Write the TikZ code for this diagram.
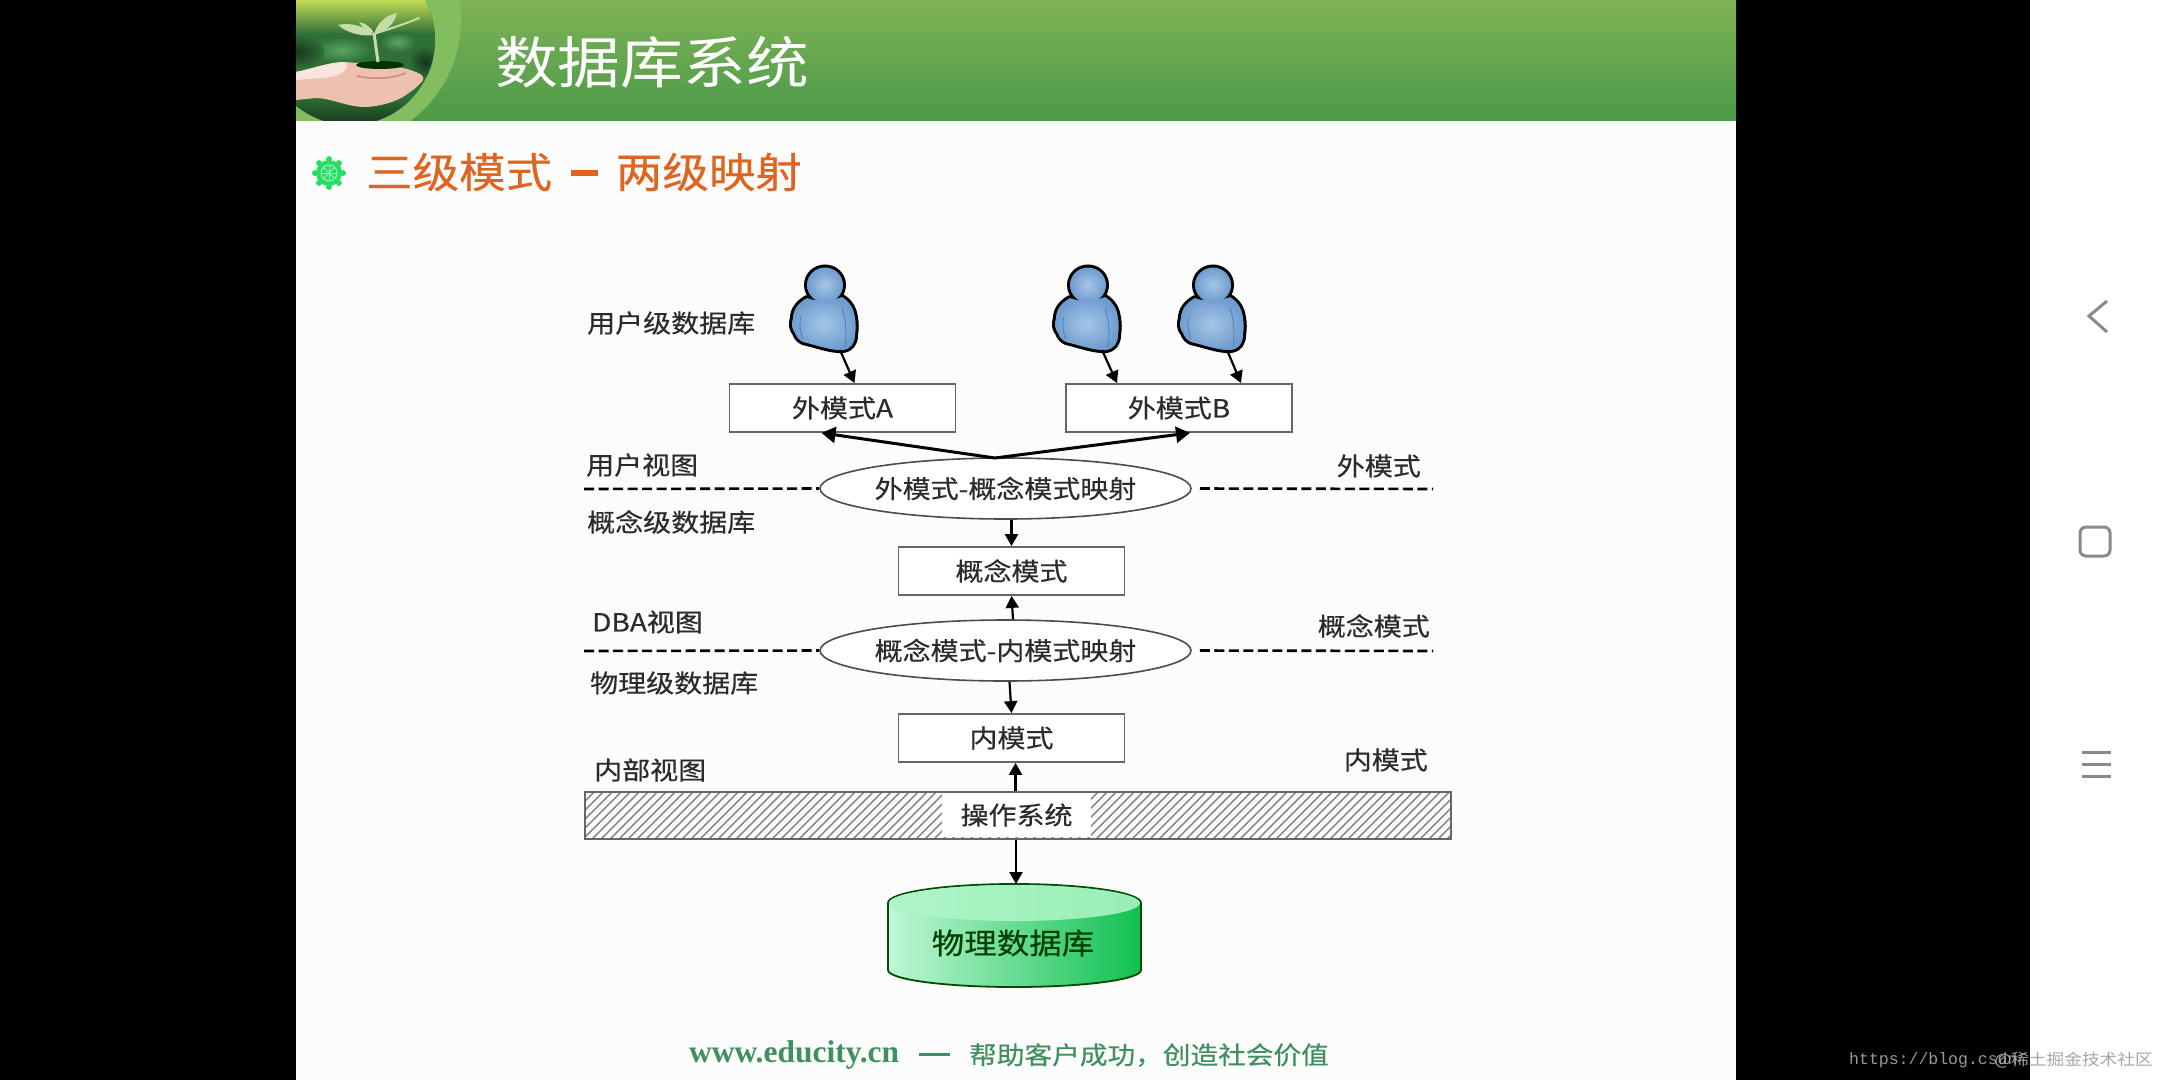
\documentclass[tikz,border=0pt]{standalone}
\usepackage{fontspec}
\setmainfont[FakeStretch=1.12, FakeBold=0.4]{Noto Sans CJK SC}
\newfontfamily\thincjk[FakeStretch=1.12]{Noto Sans CJK SC}
\newfontfamily\footserif{Liberation Serif}
\newfontfamily\urlfont{Liberation Mono}
\usetikzlibrary{positioning, calc, arrows.meta, shapes}
\tikzset{>={Triangle[length=12pt,width=13pt]}}
\definecolor{headtop}{HTML}{7FB257}
\definecolor{headbot}{HTML}{4C9A48}
\definecolor{haloring}{HTML}{82BE60}
\definecolor{orangetxt}{HTML}{DF6420}
\definecolor{wheelgreen}{HTML}{26DE62}
\definecolor{wheelring}{HTML}{A0F2BC}
\definecolor{foottxt}{HTML}{3F8F60}
\definecolor{navgray}{HTML}{8A8A8A}
\definecolor{inktxt}{HTML}{2B2B2B}
\definecolor{userlight}{HTML}{A6C6E6}
\definecolor{userdark}{HTML}{6F9CCF}
\definecolor{userfold}{HTML}{4F7FB4}
\definecolor{logotop}{HTML}{C2DB55}
\definecolor{logomid}{HTML}{2F7038}
\definecolor{logopale}{HTML}{5BA562}
\definecolor{logodark}{HTML}{17351E}
\definecolor{handskin}{HTML}{EDC0B0}
\definecolor{handpale}{HTML}{F8E6DE}
\definecolor{handfold}{HTML}{C98A7A}
\definecolor{sprout}{HTML}{C6DCA6}
\definecolor{dbleft}{HTML}{C0F7D5}
\definecolor{dbright}{HTML}{10C050}
\definecolor{dbtopleft}{HTML}{B0F4C8}
\definecolor{dbtopright}{HTML}{98EFB6}
\tikzset{
  userbody/.style={insert path={
    (-17,33) .. controls (-26,38) and (-31,45) .. (-31,53)
    .. controls (-33,60) and (-32,64) .. (-29,68) .. controls (-27,73) and (-25,75) .. (-21,77)
    .. controls (-8,80) and (8,86) .. (19,85) .. controls (27,84) and (31,78) .. (31,70)
    .. controls (32,64) and (32,58) .. (31,53) .. controls (30,44) and (26,37) .. (18,32)
    .. controls (8,36) and (-8,37) .. (-17,33) -- cycle}},
  userhead/.style={insert path={(1,20) ellipse [x radius=18, y radius=17.5]}},
  user/.pic={
    \path[draw, line width=6pt, line join=round, userbody];
    \path[draw, line width=6pt, userhead];
    \path[inner color=userlight, outer color=userdark, userbody];
    \path[inner color=userlight, outer color=userdark, userhead];
    \draw[userfold, line width=.8pt] (-23,52) .. controls (-25,60) and (-24,68) .. (-21,74);
    \draw[userfold, line width=.8pt] (18,42) .. controls (22,55) and (23,70) .. (21,82);
  }
}
\begin{document}
\begin{tikzpicture}
    [x=1pt, y=-1pt,
     box/.style={draw=black!60, line width=1.8pt, fill=white, minimum width=226pt, minimum height=48pt, inner sep=0pt, text=inktxt, font=\fontsize{25}{25}\selectfont},
     mapping/.style={ellipse, draw=black!70, line width=1.6pt, fill=white, minimum width=371pt, minimum height=61pt, inner sep=0pt, text=inktxt, font=\fontsize{25}{25}\selectfont},
     lab/.style={inner sep=0pt, text=inktxt, font=\fontsize{25}{25}\selectfont},
     sep/.style={line width=2.6pt, dash pattern=on 10pt off 4.5pt},
     flow/.style={->, line width=2.2pt},
     fan/.style={-{Triangle[length=14pt,width=16pt]}, line width=3pt},
     blotch/.style={inner color=#1, outer color=logomid},
     nav/.style={draw=navgray, line width=3pt}]

    \useasboundingbox (0,0) rectangle (2160,1080);
    \fill[black] (0,0) rectangle (2160,1080);
    \fill[white] (2030,0) rectangle (2160,1080);
    \fill[white!99!black] (296,0) rectangle (1736,1080);
    \path[top color=headtop, bottom color=headbot] (296,0) rectangle (1736,120);

    % logo
    \begin{scope}
      \clip (296,0) rectangle (470,120);
      \fill[haloring] (335,20) circle (126);
      \clip (350,40) circle (85);
      \fill[logomid] (250,-50) rectangle (450,130);
      \path[top color=logotop, bottom color=logomid] (250,0) rectangle (450,34);
      \path[blotch=logopale] (342,50) ellipse [x radius=30, y radius=13];
      \path[blotch=logopale] (398,42) ellipse [x radius=18, y radius=10];
      \path[blotch=logodark] (298,52) ellipse [x radius=26, y radius=17];
      \path[blotch=logodark] (425,62) ellipse [x radius=17, y radius=17];
      \path[top color=logomid, bottom color=logodark] (296,96) rectangle (410,125);
      \fill[handskin] (296,72) .. controls (315,68) and (330,62) .. (345,62) .. controls (370,64) and (400,66) .. (410,70)
        .. controls (420,73) and (425,76) .. (423,80) .. controls (417,88) and (410,92) .. (403,97) .. controls (390,104) and (375,107) .. (363,107)
        .. controls (345,106) and (330,98) .. (316,98) -- (296,100) -- cycle;
      \fill[handpale] (296,72) .. controls (315,68) and (330,62) .. (345,62) .. controls (352,68) and (340,78) .. (320,78) -- (296,80) -- cycle;
      \draw[handfold, line width=1.5pt] (357,76) .. controls (375,80) and (395,78) .. (406,73);
      \fill[black!80!green] (380,65) ellipse [x radius=24, y radius=4];
      \draw[sprout, line width=3pt] (378,62) -- (374,33);
      \fill[sprout] (374,35) .. controls (360,37) and (346,32) .. (338,25) .. controls (350,22) and (366,26) .. (374,35) -- cycle;
      \fill[sprout] (374,33) .. controls (368,32) and (362,28) .. (359,22) .. controls (365,23) and (371,27) .. (374,33) -- cycle;
      \fill[sprout] (374,35) .. controls (376,24) and (386,15) .. (397,13) .. controls (395,23) and (386,32) .. (374,35) -- cycle;
      \draw[sprout, line width=2pt, line cap=round] (380,32) .. controls (392,28) and (405,24) .. (419,18);
    \end{scope}

    \node[white, inner sep=0pt, font=\thincjk\fontsize{56}{56}\selectfont] (title) at (652,62) {数据库系统};

    % bullet
    \fill[wheelgreen] (329,173) circle (13);
    \draw[wheelring, line width=1pt] (329,173) circle (8);
    \foreach \a in {0,45,...,315} {
      \fill[wheelgreen] (329,173) ++(\a:14) circle (3);
      \draw[wheelring, line width=.8pt] (329,173) -- ++(\a:8);
    }
    \node[text=orangetxt, anchor=west, inner sep=0pt, font=\fontsize{41.5}{42}\selectfont] (sub) at (366,172) {三级模式};
    \node[text=orangetxt, anchor=east, inner sep=0pt, font=\fontsize{41.5}{42}\selectfont] (sub2) at (802,172) {两级映射};
    \fill[orangetxt] (571,170) rectangle (598,176);

    % users
    \pic at (824,265) {user};
    \pic at (1087,265) {user};
    \pic at (1212,265) {user};
    \coordinate (usera) at (840,350);
    \coordinate (userb) at (1102,350);
    \coordinate (userc) at (1227,350);

    \node[box] (exta) at (842.5,408) {外模式A};
    \node[box] (extb) at (1179,408) {外模式B};
    \node[mapping] (mapa) at (1005.5,488.5) {外模式-概念模式映射};
    \node[box] (concept) at (1011.5,571) {概念模式};
    \node[mapping] (mapb) at (1005.5,650.5) {概念模式-内模式映射};
    \node[box] (inner) at (1011.5,738) {内模式};

    \draw[flow] (usera) -- ($(exta.north)+(12,0)$);
    \draw[flow] (userb) -- ($(extb.north)+(-62,0)$);
    \draw[flow] (userc) -- ($(extb.north)+(62,0)$);

    \coordinate (apex) at (995,458);
    \draw[fan] (apex) -- ($(exta.south)+(-21,0)$);
    \draw[fan] (apex) -- ($(extb.south)+(11,0)$);
    \draw[flow] (mapa.south -| concept.north) -- (concept.north);
    \draw[flow] ($(mapb.north)+(7.5,0)$) -- (concept.south);
    \draw[flow] ($(mapb.south)+(4,0)$) -- (inner.north);

    % dashed levels
    \coordinate (lefta) at (584,489);
    \coordinate (righta) at (1433,489);
    \coordinate (leftb) at (584,651);
    \coordinate (rightb) at (1433,651);
    \draw[sep] (lefta) -- (mapa.west);
    \draw[sep] ($(mapa.east)+(8,0)$) -- (righta);
    \draw[sep] (leftb) -- (mapb.west);
    \draw[sep] ($(mapb.east)+(8,0)$) -- (rightb);

    \node[lab, anchor=west] (ldb) at (587,323) {用户级数据库};
    \node[lab, anchor=west] (lview) at (586,465) {用户视图};
    \node[lab, anchor=east] (rext) at (1421,466) {外模式};
    \node[lab, anchor=west] (cdb) at (587,522) {概念级数据库};
    \node[lab, anchor=west] (dba) at (592,622) {DBA视图};
    \node[lab, anchor=east] (rcon) at (1430,626) {概念模式};
    \node[lab, anchor=west] (pdb) at (590,683) {物理级数据库};
    \node[lab, anchor=west] (iview) at (594,770) {内部视图};
    \node[lab, anchor=east] (rint) at (1428,760) {内模式};

    % operating system bar
    \begin{scope}
      \clip (585,792) rectangle (1451,839);
      \foreach \i in {-47,-38,...,871}
        \draw[black!50, line width=1.4pt] ({585+\i},839) -- ({585+\i+47},792);
    \end{scope}
    \node[draw=black!60, line width=1.8pt, minimum width=866pt, minimum height=47pt, inner sep=0pt] (bar) at (1018,815.5) {};
    \node[lab, fill=white, minimum width=149pt, minimum height=44pt] (os) at (1016.5,815) {操作系统};

    % database
    \coordinate (dbtop) at (1016,884);
    \path[draw=black!70!green, line width=1.8pt, left color=dbleft, right color=dbright]
      (888,903) -- (888,970) .. controls (888,979.4) and (944,987) .. (1014.5,987)
      .. controls (1085,987) and (1141,979.4) .. (1141,970) -- (1141,903)
      .. controls (1141,892.5) and (1085,884) .. (1014.5,884) .. controls (944,884) and (888,892.5) .. (888,903) -- cycle;
    \path[left color=dbtopleft, right color=dbtopright] (1014.5,903) ellipse [x radius=125.5, y radius=18];
    \node[inner sep=0pt, text=black!75!green, font=\fontsize{29}{29}\selectfont] (db) at (1013,943) {物理数据库};

    \draw[flow] (bar.north -| os.north) ++(-1,0) coordinate (osup) -- (inner.south -| osup);
    \draw[flow] (bar.south -| dbtop) -- (dbtop);

    % footer
    \node[anchor=west, inner sep=0pt, text=foottxt, font=\footserif\bfseries\fontsize{31.5}{32}\selectfont] (site) at (689,1055) {www.educity.cn};
    \fill[foottxt] (919,1053) rectangle (950,1056);
    \node[anchor=east, inner sep=0pt, text=foottxt, font=\fontsize{24.7}{25}\selectfont] (motto) at (1329,1055) {帮助客户成功，创造社会价值};

    % phone buttons
    \coordinate (backa) at (2107,301);
    \coordinate (backb) at (2089,316);
    \coordinate (backc) at (2107,332);
    \draw[nav] (backa) -- (backb) -- (backc);
    \draw[nav, rounded corners=6pt] (2080,527) rectangle (2110,556);
    \foreach \y in {752,764,776}
      \draw[nav] (2082,\y) -- (2111,\y);

    \node[anchor=west, inner sep=0pt, text=black!40, font=\urlfont\fontsize{16.5}{17}\selectfont] (url) at (1849,1060) {https://blog.csdn};
    \node[anchor=east, inner sep=0pt, text=black!35, font=\thincjk\fontsize{15.8}{16}\selectfont] (wmk) at (2153,1060) {@稀土掘金技术社区};
  \end{tikzpicture}
\end{document}
